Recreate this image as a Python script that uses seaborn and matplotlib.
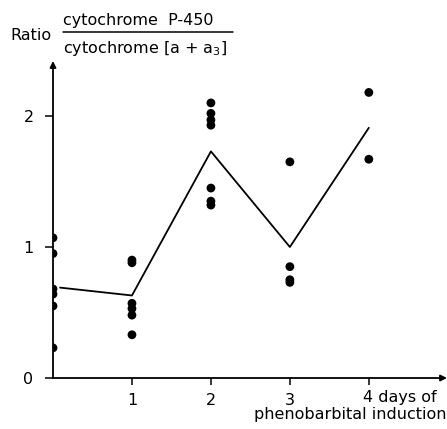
import matplotlib
matplotlib.use("Agg")
import matplotlib.pyplot as plt
import seaborn as sns
import pandas as pd

sns.set_style("white")
plt.rcParams['font.family'] = ['DejaVu Sans']
plt.rcParams['text.color'] = 'black'
plt.rcParams['xtick.color'] = 'black'
plt.rcParams['ytick.color'] = 'black'

# Individual measurements
point_days = [0, 0, 0, 0, 0, 0,
              1, 1, 1, 1, 1, 1,
              2, 2, 2, 2, 2, 2, 2,
              3, 3, 3, 3,
              4, 4]
point_ratio = [1.07, 0.95, 0.68, 0.64, 0.55, 0.23,
               0.90, 0.88, 0.57, 0.53, 0.48, 0.33,
               2.10, 2.02, 1.97, 1.93, 1.45, 1.35, 1.32,
               1.65, 0.85, 0.75, 0.73,
               2.18, 1.67]
# Mean line
line_days = [0.09, 1, 2, 3, 4]
line_ratio = [0.69, 0.63, 1.73, 1.00, 1.91]

x_ticks = [1, 2, 3]
y_ticks = [0, 1, 2]

pts = pd.DataFrame({"day": point_days, "ratio": point_ratio})
ln = pd.DataFrame({"day": line_days, "ratio": line_ratio})

FS = 11.5

fig = plt.figure(figsize=(4.47, 4.29), dpi=100)
ax = fig.add_axes([53/447, 51/429, 394/447, 317/429])
ax.set_xlim(0, 4.99)
ax.set_ylim(0, 2.42)

sns.lineplot(data=ln, x="day", y="ratio", ax=ax, color="black", lw=1.3,
             sort=False)
sns.scatterplot(data=pts, x="day", y="ratio", ax=ax, color="black", s=40,
                edgecolor="none", clip_on=True, zorder=5)

for s in ax.spines.values():
    s.set_visible(False)
# axes with arrows
ax.annotate("", xy=(4.99, 0), xytext=(0, 0),
            arrowprops=dict(arrowstyle="-|>", color="black", lw=1.3,
                            mutation_scale=9, shrinkA=0, shrinkB=0),
            annotation_clip=False)
ax.annotate("", xy=(0, 2.42), xytext=(0, 0),
            arrowprops=dict(arrowstyle="-|>", color="black", lw=1.3,
                            mutation_scale=9, shrinkA=0, shrinkB=0),
            annotation_clip=False)

ax.set_xticks(x_ticks + [4])
ax.set_xticklabels([str(t) for t in x_ticks] + [""])
ax.set_yticks(y_ticks)
ax.set_yticklabels([str(t) for t in y_ticks])
ax.tick_params(axis="x", direction="out", length=5, width=1.1,
               color="black", labelcolor="black", labelsize=FS, pad=6,
               bottom=True)
ax.tick_params(axis="y", direction="out", length=6, width=1.1,
               color="black", labelcolor="black", labelsize=FS, pad=8,
               left=True)
ax.set_xlabel("")
ax.set_ylabel("")

ax.text(4 - 0.07, -0.09, "4 days of", ha="left", va="top", fontsize=FS,
        transform=ax.transData)
ax.text(4.99, -0.225, "phenobarbital induction", ha="right", va="top",
        fontsize=FS, transform=ax.transData)

# title fraction
fig.text(10/447, 1 - 36/429, "Ratio", ha="left", va="center", fontsize=FS)
fig.text(63/447, 1 - 21/429, "cytochrome  P-450", ha="left", va="center",
         fontsize=FS)
fig.add_artist(plt.Line2D([63/447, 233/447], [1 - 32/429, 1 - 32/429],
                          color="black", lw=1.1))
fig.text(63/447, 1 - 48/429, r"cytochrome [a + a$_3$]", ha="left",
         va="center", fontsize=FS)

fig.savefig("out.png", dpi=100)
